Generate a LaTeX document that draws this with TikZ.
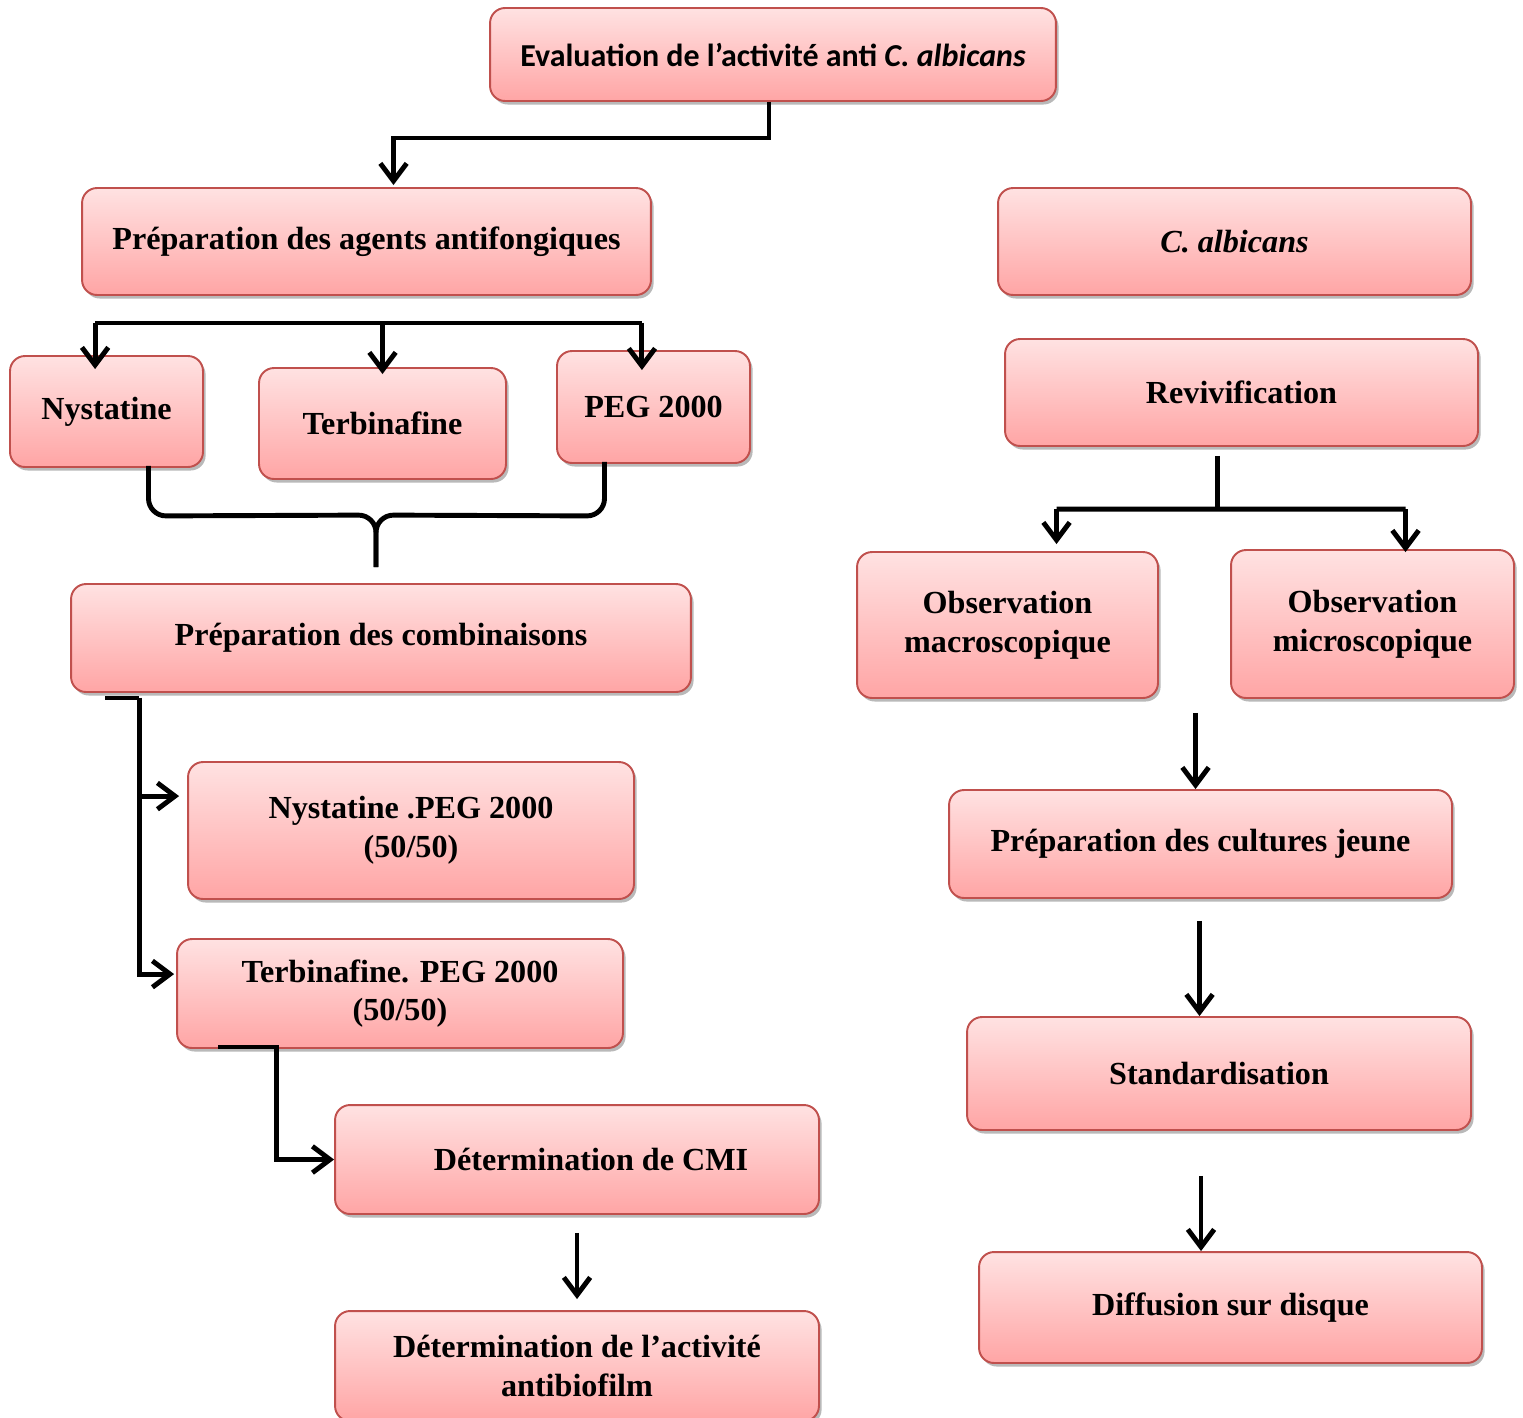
\documentclass[tikz,border=0pt]{standalone}
\usepackage{xcolor}
\usepackage{fontspec}
\setmainfont{Liberation Serif}
\newfontfamily\calfont{Carlito}
\usetikzlibrary{calc,shadows,arrows.meta}

\definecolor{boxtop}{RGB}{255,226,226}
\definecolor{boxbot}{RGB}{255,165,165}
\definecolor{boxline}{RGB}{192,80,77}

\tikzset{
  box/.style = {rounded corners=0.3cm, draw=boxline, line width=1.1pt,
                top color=boxtop, bottom color=boxbot,
                drop shadow={shadow xshift=1.5pt, shadow yshift=-2pt, fill=black!55},
                align=center, inner sep=0pt,
                font=\bfseries\fontsize{18.3}{22}\selectfont},
  link/.style = {line width=2.8pt, black},
  conn/.style = {link, -{Straight Barb[length=10pt,width=15pt,line width=2.8pt]}}
}

\begin{document}
\begin{tikzpicture}[x=0.02cm, y=-0.02cm]
      \useasboundingbox (0,0) rectangle (1523,1417);

      \node[box, minimum width=11.32cm, minimum height=1.86cm, font=\calfont\bfseries\fontsize{18.2}{21}\selectfont]
           (eval) at (773,54.5) {Evaluation de l’activité anti \textit{C. albicans}};

      \node[box, minimum width=11.38cm, minimum height=2.14cm] (prepag) at (366.5,241.5) {Préparation des agents antifongiques};
      \node[box, minimum width=3.86cm, minimum height=2.22cm] (nys) at (106.5,411.5) {Nystatine};
      \node[box, minimum width=4.94cm, minimum height=2.22cm] (terb) at (382.5,423.5) {Terbinafine};
      \node[box, minimum width=3.86cm, minimum height=2.24cm] (peg) at (653.5,407) {PEG 2000};
      \node[box, minimum width=12.4cm, minimum height=2.16cm] (prepcomb) at (381,638) {Préparation des combinaisons};
      \node[box, minimum width=8.92cm, minimum height=2.74cm] (nyspeg) at (411,830.5) {Nystatine .PEG 2000\\(50/50)};
      \node[box, minimum width=8.92cm, minimum height=2.18cm] (terbpeg) at (400,993.5) {Terbinafine. PEG 2000\\(50/50)};
      \node[box, minimum width=9.68cm, minimum height=2.18cm] (cmi) at (577,1159.5) {\hspace{16pt}Détermination de CMI};
      \node[box, minimum width=9.68cm, minimum height=2.2cm] (biof) at (577,1366) {Détermination de l’activité\\antibiofilm};

      \node[box, minimum width=9.46cm, minimum height=2.14cm] (calb) at (1234.5,241.5) {\textit{C. albicans}};
      \node[box, minimum width=9.46cm, minimum height=2.14cm] (reviv) at (1241.5,392.5) {Revivification};
      \node[box, minimum width=6.02cm, minimum height=2.92cm] (macro) at (1007.5,625) {Observation\\macroscopique};
      \node[box, minimum width=5.66cm, minimum height=2.96cm] (micro) at (1372.5,624) {Observation\\microscopique};
      \node[box, minimum width=10.06cm, minimum height=2.16cm] (cult) at (1200.5,844) {Préparation des cultures jeune};
      \node[box, minimum width=10.08cm, minimum height=2.26cm] (stand) at (1219,1073.5) {Standardisation};
      \node[box, minimum width=10.06cm, minimum height=2.22cm] (diff) at (1230.5,1307.5) {Diffusion sur disque};

      \draw[conn] ($(eval.south)+(-4,0)$) -- ++(0,36) -| ($(prepag.north)+(27,-2)$);

      \coordinate (barL) at ($(prepag.south west)+(14,27)$);
      \coordinate (barR) at ($(prepag.south east)+(-10,27)$);
      \draw[link] (barL) -- (barR);
      \draw[conn] (barL) -- ($(barL |- nys.north)+(0,14)$);
      \draw[conn] (terb.north |- barL) -- ($(terb.north)+(0,7)$);
      \draw[conn] (barR) -- ($(barR |- peg.north)+(0,20)$);

      \coordinate (brace) at ($(prepcomb.north)+(-5,-16)$);
      \draw[link, rounded corners=0.35cm] ($(nys.south)+(42,-2)$) -- ($(nys.south)+(42,48)$) -- ($(brace)+(0,-52)$) -- (brace);
      \draw[link, rounded corners=0.35cm] ($(peg.south)+(-49,-2)$) -- ($(peg.south)+(-49,52)$) -- ($(brace)+(0,-52)$) -- (brace);

      \coordinate (split) at ($(prepcomb.south west)+(69,5)$);
      \draw[link] ($(prepcomb.south west)+(35,5)$) -- (split);
      \draw[conn] (split) |- ($(nyspeg.north west)+(-8,35)$);
      \draw[conn] (split) |- ($(terbpeg.north west)+(-2,36)$);

      \draw[conn] ($(terbpeg.south west)+(42,-2)$) -- ++(58,0) |- (cmi.west);
      \draw[conn] ($(cmi.south)+(0,18)$) -- ($(biof.north)+(0,-11)$);

      \coordinate (fork) at ($(reviv.south)+(-24,64)$);
      \coordinate (forkL) at ($(macro.north)+(49,-42)$);
      \coordinate (forkR) at ($(micro.north)+(33,-40)$);
      \draw[link] ($(reviv.south)+(-24,9)$) -- (fork);
      \draw[link] (forkL) -- (forkR);
      \draw[conn] (forkL) -- ($(macro.north)+(49,-7)$);
      \draw[conn] (forkR) -- ($(micro.north)+(33,3)$);

      \coordinate (obs) at ($(macro.south)+(188,14)$);
      \draw[conn] (obs) -- (obs |- cult.north);
      \draw[conn] ($(cult.south)+(-1,22)$) -- ($(cult.south |- stand.north)+(-1,0)$);
      \draw[conn] ($(stand.south)+(-18,45)$) -- ($(stand.south |- diff.north)+(-18,0)$);
\end{tikzpicture}
\end{document}
